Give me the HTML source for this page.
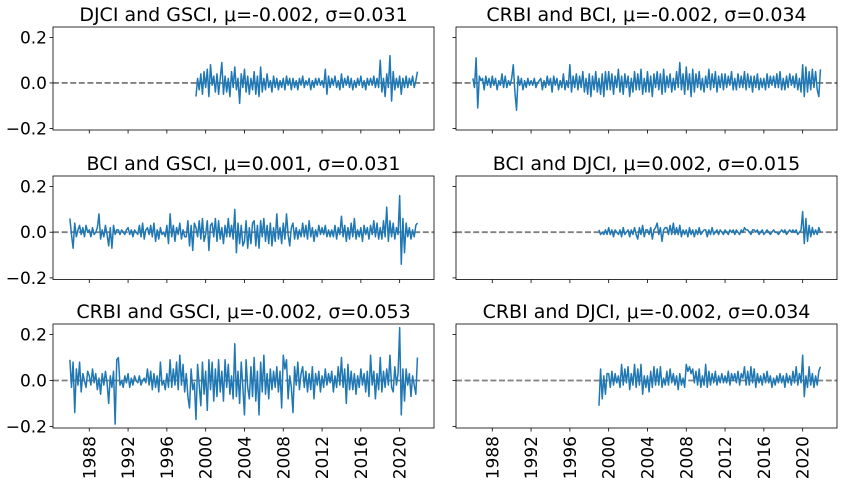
<!DOCTYPE html>
<html><head><meta charset="utf-8"><style>
body{margin:0;background:#fff}
svg text{font-family:"DejaVu Sans","Liberation Sans",sans-serif;fill:#000}
</style></head><body>
<svg id="fig" width="843" height="483" viewBox="0 0 843 483" xmlns="http://www.w3.org/2000/svg"></svg>
<script>
// Data in hundredths (value/100), bimonthly samples
const fullStart = 1986.0;
const djStart = 1999.0;
const xTickYears = [1988,1992,1996,2000,2004,2008,2012,2016,2020];
const yTickValues = [-0.2,0.0,0.2];
const yTickLabels = ["\u22120.2","0.0","0.2"];
const titles = ["DJCI and GSCI, \u03bc=-0.002, \u03c3=0.031","CRBI and BCI, \u03bc=-0.002, \u03c3=0.034","BCI and GSCI, \u03bc=0.001, \u03c3=0.031","BCI and DJCI, \u03bc=0.002, \u03c3=0.015","CRBI and GSCI, \u03bc=-0.002, \u03c3=0.053","CRBI and DJCI, \u03bc=-0.002, \u03c3=0.034"];
const djciGsci = [-6,2,-3,4,-5,5, -2,6,-6,8,-1,3, -4,4,-5,2,9,-5, 3,-4,2,-6,5,-2, 7,-3,2,-9,4,-2, 6,-4,3,-5,2,-3, 5,-5,3,-6,7,-4, 2,-3,4,-2,1,-4, 3,-2,2,-3,1,-2, 2,-3,3,-1,2,-3, 2,-2,1,-3,2,-1, 3,-2,1,-1,2,-3, 1,-2,2,-1,2,-1, 1,-2,6,-5,3,-2, 2,-1,3,-2,1,-3, 4,-2,2,-1,3,-2, 2,-3,1,-2,2,-1, 3,-2,1,-3,2,-1, 2,-1,3,-2,2,-2, 10,-4,2,-6,4,-2, 12,-8,5,-3,2,-2, 3,-5,2,-2,3,-2, 2,-1,3,-2,1,5];
const crbiBci = [2,-2,11,-11,3,1, 2,-3,3,-1,2,-2, 3,-1,2,-3,1,-1, 4,-2,3,-2,1,-1, 2,8,-4,-12,3,-1, 2,-3,1,-2,2,-1, 1,-1,2,-2,0,1, 2,-3,1,-2,3,-1, 2,-4,3,-1,2,-3, 1,-2,4,-3,1,-2, 8,-4,3,-2,4,-3, 3,-2,5,-4,2,-5, 4,-6,3,-3,5,-4, 2,-5,4,-6,5,-3, 5,-3,4,-5,3,-2, 6,-4,3,-5,4,-2, 3,-6,2,-4,5,-3, 4,-3,6,-5,2,-4, 5,-4,3,-6,4,-2, 5,-3,4,-5,6,-4, 3,-2,4,-4,2,-3, 5,-2,9,-3,4,-5, 7,-3,4,-6,6,-4, 4,-2,5,-3,2,-4, 3,-2,6,-3,4,-2, 5,-4,3,-2,4,-3, 4,-2,3,-1,5,-3, 2,-3,4,-2,3,-2, 5,-3,4,-2,3,-4, 3,-2,4,-3,2,-2, 2,-3,4,-2,3,-1, 3,-2,4,-2,5,-3, 2,-3,3,-2,4,-1, 3,-2,4,-3,2,-4, 8,-6,7,-4,5,-3, 6,-2,5,-3,-6,6];
const bciGsci = [6,-1,-7,4,-2,1, 3,-1,2,-2,3,0, 1,-2,2,-1,0,2, 8,-3,1,-2,3,-1, -6,2,-7,3,-1,1, 1,-1,1,0,-1,1, 2,-1,1,-2,1,0, -1,3,-2,4,-3,1, 2,-1,3,-2,4,-4, 1,-3,2,-1,0,-2, 3,-5,8,-2,3,-4, 2,-1,4,-3,1,-2, -2,5,-6,3,-8,4, 2,-2,5,-3,6,-4, -1,5,-8,3,4,-2, 6,-4,5,-3,2,-5, 3,-2,6,-2,3,-3, 10,-9,4,-5,3,-6, -4,5,-7,2,-5,4, 5,-6,3,-7,5,-2, 6,-4,3,-5,4,-6, 2,-4,8,-3,2,-5, 4,-3,8,-1,-6,2, 4,-3,2,-3,1,-2, 4,-2,3,-3,5,-2, 2,-4,1,-2,3,-1, 2,-1,3,-2,1,-2, 1,-2,3,-3,2,-1, 7,-2,3,-4,2,-3, 4,-2,6,-3,1,-2, 2,-4,3,-1,2,-3, 3,-1,5,-2,4,-3, 2,-3,5,-2,11,-4, 5,-2,4,-3,2,-1, 16,-14,6,-9,4,-2, 2,-3,1,-2,3,4];
const bciDjci = [1,-1,0,-1,1,-1, 2,-1,1,-2,1,0, -1,1,-2,2,-1,0, 1,-2,1,-1,2,-1, -3,2,-1,3,-2,1, 1,-1,2,-3,1,2, 4,-1,2,-4,1,2, 2,-1,3,-1,4,-1, 2,-1,3,-2,1,-1, 1,-2,2,-1,1,-2, 1,-1,2,-1,0,1, 1,-2,1,-1,2,-1, 0,1,-1,1,0,-1, 1,0,-1,1,0,1, -1,1,0,-1,1,0, 2,1,1,0,-1,1, 1,0,1,-1,0,1, -1,0,1,0,-1,0, 1,0,0,-1,0,1, 0,1,-1,0,1,0, 1,0,1,-1,0,1, 9,-5,6,-4,3,-2, 2,-1,1,-1,2,0];
const crbiGsci = [9,-3,8,-14,5,-2, 8,-5,3,0,-3,4, 2,-2,5,-1,3,-4, 1,-6,3,-2,4,-1, -10,2,-3,4,-19,9, 10,-2,0,-3,2,-1, 3,-3,1,-2,2,0, -1,2,-2,0,1,-1, 5,-2,4,-4,3,-3, 2,-5,8,-2,0,-4, 3,-3,9,-3,5,-2, 8,-4,11,-2,7,-5, 3,-7,-12,5,-4,-1, -17,7,-2,-11,8,-6, 4,-13,9,-4,8,-9, 5,-7,9,-5,4,-9, 9,-3,7,-6,2,-8, 16,-7,4,-10,8,-3, -15,9,-3,-8,6,-7, 10,-9,4,-15,8,-5, 11,-6,3,-8,5,-4, 4,-3,6,-5,4,-12, 11,5,9,-8,2,-3, -14,6,-2,8,-4,3, 6,-3,4,-5,3,-4, 6,-8,3,-2,4,-5, 2,-3,5,-2,3,-1, 4,-5,2,-3,6,-2, 10,-3,5,-10,7,-4, 4,-4,3,-6,2,-3, 5,-2,3,-5,4,-7, 11,-2,4,-8,3,-4, 10,-5,4,-3,5,-2, 11,-3,-5,6,-2,3, 23,-15,5,-9,5,-2, 3,-7,2,-2,-6,10];
const crbiDjci = [-11,5,-8,2,-6,3, 3,-3,4,-2,3,-1, 2,-3,7,-2,5,-1, 6,-4,3,-2,7,-3, 5,-2,7,-6,2,-3, 2,-5,4,-3,6,-2, 5,-2,6,-3,1,-2, 4,-2,5,-1,3,-2, 2,-4,3,-2,1,-3, 7,4,6,3,5,-1, 4,-2,5,-3,2,-2, 7,-3,4,-2,3,-1, 4,-2,2,-1,3,-1, 2,-1,4,-2,3,0, 3,-1,4,-2,3,1, 6,-2,4,-2,6,-1, 5,-3,3,-1,2,-2, 3,-1,4,-1,2,-3, 1,-2,2,-1,3,-1, 2,-3,3,-1,2,-2, 4,-1,6,-2,3,-1, 11,-7,2,-3,6,-2, 3,-3,2,-2,4,6];

const NS="http://www.w3.org/2000/svg";
const svg=document.getElementById('fig');
function mk(tag,attrs,parent){const e=document.createElementNS(NS,tag);for(const k in attrs)e.setAttribute(k,attrs[k]);(parent||svg).appendChild(e);return e;}
const cols=[53,456], W=381, rows=[[27,130],[176,279.5],[324,428]];
const X0=1984.26, X1=2023.54, Y0=-0.207, Y1=0.246;
const panels=[[djciGsci,djStart],[crbiBci,fullStart],[bciGsci,fullStart],[bciDjci,djStart],[crbiGsci,fullStart],[crbiDjci,djStart]];
panels.forEach((p,i)=>{
  const r=Math.floor(i/2), c=i%2;
  const L=cols[c], T=rows[r][0], B=rows[r][1], H=B-T;
  const xs=y=>L+(y-X0)/(X1-X0)*W;
  const ys=v=>B-(v-Y0)/(Y1-Y0)*H;
  const g=mk('g',{});
  
  
  const t=mk('text',{x:L+W/2,y:T-6,'text-anchor':'middle','font-size':'19'},g);
  t.textContent=titles[i];
  
  
  const zl=mk('line',{x1:L,x2:L+W,y1:ys(0),y2:ys(0),stroke:'#808080','stroke-width':1.8,'stroke-dasharray':'6,2.6'},g);
  
  
  const vals=p[0], st=p[1];
  const pts=vals.map((v,k)=>xs(st+k/6).toFixed(2)+','+ys(v/100).toFixed(2)).join(' ');
  const pl=mk('polyline',{points:pts,fill:'none',stroke:'#1f77b4','stroke-width':1.5,'stroke-linejoin':'round'},g);
  
  
  yTickValues.forEach((v,k)=>{
    mk('line',{x1:L-3.5,x2:L,y1:ys(v),y2:ys(v),stroke:'#000','stroke-width':0.8},g);
    if(c===0){const tl=mk('text',{x:L-6,y:ys(v)+6,'text-anchor':'end','font-size':'17'},g);tl.textContent=yTickLabels[k];
      
      }
  });
  xTickYears.forEach(yr=>{
    const x=xs(yr);
    mk('line',{x1:x,x2:x,y1:B,y2:B+3.5,stroke:'#000','stroke-width':0.8},g);
    if(r===2){const tl=mk('text',{x:0,y:0,'text-anchor':'end','font-size':'17',transform:`translate(${x+6},${B+8}) rotate(-90)`},g);tl.textContent=yr;
      
      }
  });
  const fr=mk('rect',{x:L,y:T,width:W,height:H,fill:'none',stroke:'#000','stroke-width':0.8},g);
  
  
});
</script>
</body></html>
